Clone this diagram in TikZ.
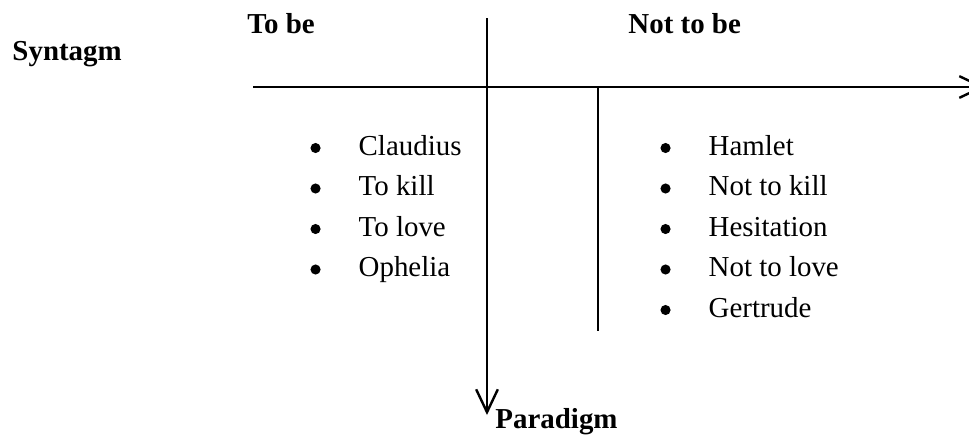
\documentclass[tikz,border=0pt]{standalone}
\usepackage{fontspec}
\setmainfont{Liberation Serif}
\usepackage{tikz}
\usetikzlibrary{positioning,arrows.meta}
\tikzset{
  axis/.style={line width=1.05pt, -{Straight Barb[length=9.5pt, width=9pt, line width=1pt]}},
  divider/.style={line width=1.05pt},
  heading/.style={font=\fontsize{12}{14}\selectfont\bfseries, inner sep=0pt, anchor=base west},
  listitem/.style={font=\fontsize{12}{14}\selectfont, inner sep=0pt, anchor=base west}
}
\newcommand{\bul}{\makebox[20pt][l]{\raisebox{0.8pt}{\tikz\fill (0,0) circle (2.1pt);}}}

\begin{document}
\begin{tikzpicture}[x=0.415pt, y=-0.415pt]
      \useasboundingbox (0,0) rectangle (969,435);
      \clip (0,0) rectangle (969,435);
      % headings
      \node[heading] (syn) at (12,60) {Syntagm};
      \node[heading] (tobe) at (247,33) {To be};
      \node[heading] (nottobe) at (628,33) {Not to be};
      \node[heading] (para) at (495,428) {Paradigm};
      % axes
      \coordinate (hstart) at (253,87);
      \coordinate (hend) at (985,87);
      \coordinate (vtop) at (487,18);
      \coordinate (vend) at (487,415);
      \coordinate (dtop) at (598,87);
      \coordinate (dbot) at (598,331);
      \draw[axis] (hstart) -- (hend);
      \draw[axis] (vtop) -- (vend);
      \draw[divider] (dtop) -- (dbot);
      % to be
      \node[listitem] (claudius) at (310,155) {\bul Claudius};
      \node[listitem] (kill) at (310,195.5) {\bul To kill};
      \node[listitem] (love) at (310,236) {\bul To love};
      \node[listitem] (ophelia) at (310,276.5) {\bul Ophelia};
      % not to be
      \node[listitem] (hamlet) at (660,155) {\bul Hamlet};
      \node[listitem] (notkill) at (660,195.5) {\bul Not to kill};
      \node[listitem] (hesit) at (660,236) {\bul Hesitation};
      \node[listitem] (notlove) at (660,276.5) {\bul Not to love};
      \node[listitem] (gertrude) at (660,317) {\bul Gertrude};
    \end{tikzpicture}
\end{document}
